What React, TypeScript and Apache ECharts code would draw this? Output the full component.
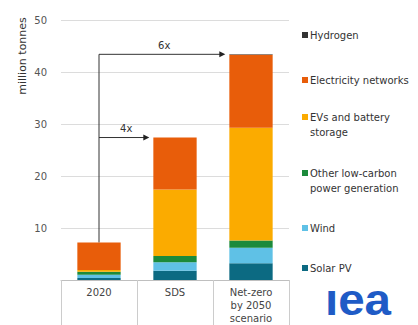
import React, { useEffect, useRef } from "react";
import * as echarts from "echarts";

// Mineral demand by end use, million tonnes
const categories = ["2020", "SDS", "Net-zero\nby 2050\nscenario"];
const solarPV = [0.4, 1.8, 3.2];
const wind = [0.6, 1.6, 3.0];
const otherLowCarbon = [0.6, 1.2, 1.4];
const evsBattery = [0.3, 12.8, 21.7];
const electricityNetworks = [5.3, 10.0, 14.0];
const hydrogen = [0, 0, 0.1];
const yTicks = [0, 10, 20, 30, 40, 50];

const seriesDefs = [
  { name: "Solar PV", label: "Solar PV", data: solarPV, color: "#0c6a82" },
  { name: "Wind", label: "Wind", data: wind, color: "#5fc1e6" },
  { name: "Other low-carbon power generation", label: "Other low-carbon\npower generation", data: otherLowCarbon, color: "#1c8a3b" },
  { name: "EVs and battery storage", label: "EVs and battery\nstorage", data: evsBattery, color: "#fbab00" },
  { name: "Electricity networks", label: "Electricity networks", data: electricityNetworks, color: "#e85d0a" },
  { name: "Hydrogen", label: "Hydrogen", data: hydrogen, color: "#333333" },
];

// legend rows, top to bottom (first-line centre y)
const legendRowY = [35, 80, 117, 173, 228, 268];

const FONT = "DejaVu Sans, Verdana, sans-serif";
const LOGO_FONT = "Liberation Sans, Arial, sans-serif";
const BAR_RATIO = 0.57;

export default function App() {
  const ref = useRef<HTMLDivElement>(null);

  useEffect(() => {
    if (!ref.current) return;
    const chart = echarts.init(ref.current, undefined, { renderer: "svg" });

    const option: any = {
      animation: false,
      backgroundColor: "#ffffff",
      textStyle: { fontFamily: FONT },
      grid: { left: 61, right: 129, top: 20, bottom: 45 },
      xAxis: {
        type: "category",
        data: categories,
        axisLine: { lineStyle: { color: "#bfbfbf", width: 1 } },
        axisTick: { show: true, interval: 0, length: 50, lineStyle: { color: "#cccccc" } },
        axisLabel: { color: "#444", fontSize: 10, lineHeight: 13, margin: 6, interval: 0, fontFamily: FONT },
      },
      yAxis: {
        type: "value",
        min: yTicks[0],
        max: yTicks[yTicks.length - 1],
        interval: 10,
        axisLine: { show: false },
        axisTick: { show: false },
        splitLine: { lineStyle: { color: "#dcdcdc", width: 1 } },
        axisLabel: {
          color: "#555",
          fontSize: 10,
          margin: 14,
          fontFamily: FONT,
          formatter: (v: number) => (v === 0 ? "" : String(v)),
        },
      },
      series: seriesDefs.map((s) => ({
        type: "bar",
        name: s.name,
        stack: "total",
        data: s.data,
        barWidth: `${BAR_RATIO * 100}%`,
        itemStyle: { color: s.color },
      })),
    };
    chart.setOption(option);

    // totals per category
    const totals = categories.map((_, i) => seriesDefs.reduce((acc, s) => acc + s.data[i], 0));
    const px = (ci: number, v: number) => chart.convertToPixel({ gridIndex: 0 }, [ci, v]) as number[];
    const band = px(1, 0)[0] - px(0, 0)[0];
    const halfBar = (band * BAR_RATIO) / 2;

    const graphics: any[] = [];
    const base = px(0, totals[0]);
    const topNZ = px(2, totals[2]);
    // vertical stem from the 2020 bar up to the net-zero level
    graphics.push({
      type: "line",
      shape: { x1: base[0], y1: base[1], x2: base[0], y2: topNZ[1] },
      style: { stroke: "#333", lineWidth: 1 },
    });
    [1, 2].forEach((ci) => {
      const p = px(ci, totals[ci]);
      const tipX = p[0] - halfBar - 4;
      const y = p[1];
      graphics.push({
        type: "line",
        shape: { x1: base[0], y1: y, x2: tipX - 4, y2: y },
        style: { stroke: "#333", lineWidth: 1 },
      });
      graphics.push({
        type: "polygon",
        shape: { points: [[tipX, y], [tipX - 6, y - 3], [tipX - 6, y + 3]] },
        style: { fill: "#222" },
      });
      graphics.push({
        type: "text",
        x: (base[0] + tipX) / 2 + 2,
        y: y - 9,
        style: {
          text: `${Math.round(totals[ci] / totals[0])}x`,
          fill: "#333",
          font: `10px ${FONT}`,
          align: "center",
          verticalAlign: "middle",
        },
      });
    });

    // axis title
    graphics.push({
      type: "text",
      x: 22,
      y: 56,
      rotation: Math.PI / 2,
      style: {
        text: "million tonnes",
        fill: "#333",
        font: `11px ${FONT}`,
        align: "center",
        verticalAlign: "middle",
      },
    });

    // legend, listed top to bottom
    const legendOrder = [...seriesDefs].reverse();
    legendOrder.forEach((s, i) => {
      const y = legendRowY[i];
      graphics.push({
        type: "rect",
        shape: { x: 302, y: y - 3, width: 6, height: 6 },
        style: { fill: s.color },
      });
      graphics.push({
        type: "text",
        x: 310,
        y: y - 7,
        style: {
          text: s.label,
          fill: "#333",
          font: `10px ${FONT}`,
          lineHeight: 15,
          align: "left",
          verticalAlign: "top",
        },
      });
    });

    // logo
    graphics.push({
      type: "text",
      x: 358,
      y: 300,
      scaleX: 1.08,
      originX: 0,
      originY: 0,
      style: {
        text: "\u0131ea",
        fill: "#1f5bc6",
        font: `bold 44px ${LOGO_FONT}`,
        lineHeight: 26,
        align: "center",
        verticalAlign: "middle",
      },
    });

    chart.setOption({ graphic: graphics });

    return () => chart.dispose();
  }, []);

  return (
    <div
      ref={ref}
      style={{ position: "fixed", left: 0, top: 0, width: 418, height: 325 }}
    />
  );
}
